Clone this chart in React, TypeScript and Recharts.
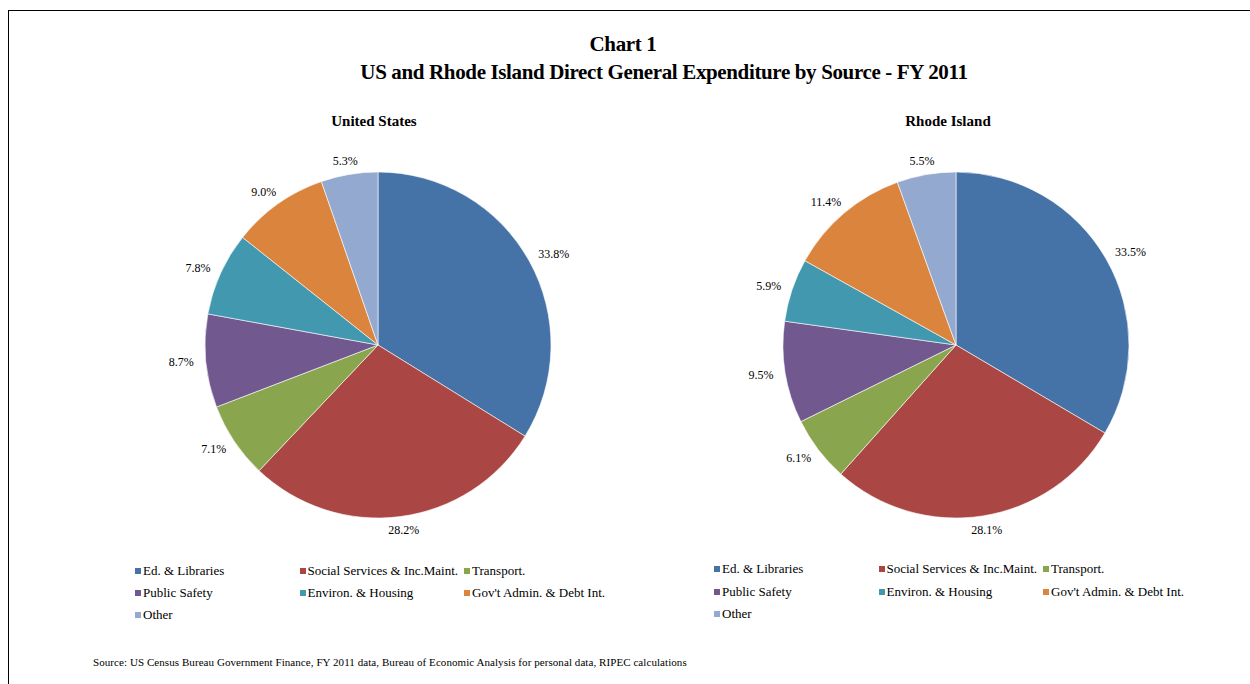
import React from 'react';
import { Cell, Legend, Pie, PieChart } from 'recharts';

const categories = [
  'Ed. & Libraries',
  'Social Services & Inc.Maint.',
  'Transport.',
  'Public Safety',
  'Environ. & Housing',
  "Gov't Admin. & Debt Int.",
  'Other',
];

const usShares = [33.8, 28.2, 7.1, 8.7, 7.8, 9.0, 5.3];
const riShares = [33.5, 28.1, 6.1, 9.5, 5.9, 11.4, 5.5];

const sliceColors = ['#4572A7', '#AA4643', '#89A54E', '#71588F', '#4198AF', '#DB843D', '#93A9CF'];

const FONT = '"Liberation Serif", "Times New Roman", serif';

const toRows = (values: number[]) =>
  categories.map((name, i) => ({ name, value: values[i] }));

// outside-end labels, pushed out by half the text box in the slice direction
const renderLabel = (props: any) => {
  const { cx, cy, midAngle, outerRadius, value } = props;
  const rad = Math.PI / 180;
  const dx = Math.cos(-midAngle * rad);
  const dy = Math.sin(-midAngle * rad);
  const text = `${Number(value).toFixed(1)}%`;
  const halfW = text.length * 3.4;
  const x = cx + (outerRadius + 11) * dx + dx * halfW;
  const y = cy + (outerRadius + 11) * dy + dy * 3;
  return (
    <text
      x={x}
      y={y}
      textAnchor="middle"
      dominantBaseline="central"
      fontFamily={FONT}
      fontSize={12}
      fill="#000"
    >
      {text}
    </text>
  );
};

const LegendGrid = ({ payload, rowGap }: any) => {
  // keep the category order (the legend would otherwise sort by name)
  const items = [...(payload || [])].sort(
    (a: any, b: any) => categories.indexOf(a.value) - categories.indexOf(b.value)
  );
  return (
    <div style={{ position: 'relative', width: 480, height: 70, fontFamily: FONT, fontSize: 13 }}>
      {items.map((item: any, i: number) => {
        const col = i % 3;
        const row = Math.floor(i / 3);
        return (
          <div
            key={item.value}
            style={{
              position: 'absolute',
              left: col * 164.5,
              top: row * rowGap,
              height: 16,
              lineHeight: '16px',
              display: 'flex',
              alignItems: 'center',
              whiteSpace: 'nowrap',
              color: '#000',
            }}
          >
            <span style={{ width: 6, height: 6, background: item.color, marginRight: 2, display: 'inline-block' }} />
            {item.value}
          </div>
        );
      })}
    </div>
  );
};

interface PiePanelProps {
  title: string;
  values: number[];
  left: number;
  cx: number;
  titleX: number;
  legendLeft: number;
  legendTop: number;
  rowGap: number;
}

const PiePanel: React.FC<PiePanelProps> = ({ title, values, left, cx, titleX, legendLeft, legendTop, rowGap }) => (
  <div style={{ position: 'absolute', left, top: 0 }}>
    <div
      style={{
        position: 'absolute',
        left: titleX - 150,
        top: 111,
        width: 300,
        textAlign: 'center',
        fontFamily: FONT,
        fontWeight: 'bold',
        fontSize: 15,
        lineHeight: '20px',
        zIndex: 1,
      }}
    >
      {title}
    </div>
    <PieChart width={620} height={684} margin={{ top: 0, right: 0, bottom: 0, left: 0 }}>
      <Pie
        data={toRows(values)}
        dataKey="value"
        nameKey="name"
        cx={cx}
        cy={345}
        outerRadius={173}
        startAngle={90}
        endAngle={-270}
        stroke="#ffffff"
        strokeWidth={0.6}
        label={renderLabel}
        labelLine={false}
        isAnimationActive={false}
      >
        {values.map((_, i) => (
          <Cell key={categories[i]} fill={sliceColors[i]} />
        ))}
      </Pie>
      <Legend
        content={(p: any) => <LegendGrid payload={p.payload} rowGap={rowGap} />}
        wrapperStyle={{ position: 'absolute', left: legendLeft, top: legendTop, width: 480, bottom: 'auto' }}
      />
    </PieChart>
  </div>
);

export default function App() {
  return (
    <div
      style={{
        position: 'absolute',
        left: 0,
        top: 0,
        width: 1250,
        height: 684,
        overflow: 'hidden',
        background: '#fff',
      }}
    >
      <div
        style={{
          position: 'absolute',
          left: 8,
          top: 10,
          width: 1242,
          height: 674,
          borderTop: '1px solid #000',
          borderLeft: '1px solid #000',
        }}
      />
      <div
        style={{
          position: 'absolute',
          left: 623 - 200,
          top: 33,
          width: 400,
          textAlign: 'center',
          fontFamily: FONT,
          fontWeight: 'bold',
          fontSize: 21,
          letterSpacing: -0.36,
          lineHeight: '22px',
          whiteSpace: 'nowrap',
        }}
      >
        Chart 1
      </div>
      <div
        style={{
          position: 'absolute',
          left: 664 - 400,
          top: 61,
          width: 800,
          textAlign: 'center',
          fontFamily: FONT,
          fontWeight: 'bold',
          fontSize: 21,
          letterSpacing: -0.36,
          lineHeight: '22px',
          whiteSpace: 'nowrap',
        }}
      >
        US and Rhode Island Direct General Expenditure by Source - FY 2011
      </div>

      <PiePanel
        title="United States"
        values={usShares}
        left={0}
        cx={378}
        titleX={374}
        legendLeft={135}
        legendTop={563}
        rowGap={22}
      />
      <PiePanel
        title="Rhode Island"
        values={riShares}
        left={620}
        cx={336}
        titleX={328}
        legendLeft={94}
        legendTop={561}
        rowGap={22.5}
      />

      <div
        style={{
          position: 'absolute',
          left: 93,
          top: 654,
          fontFamily: FONT,
          fontSize: 11,
          letterSpacing: 0.07,
          lineHeight: '16px',
          whiteSpace: 'nowrap',
        }}
      >
        Source: US Census Bureau Government Finance, FY 2011 data, Bureau of Economic Analysis for personal data, RIPEC calculations
      </div>
    </div>
  );
}
